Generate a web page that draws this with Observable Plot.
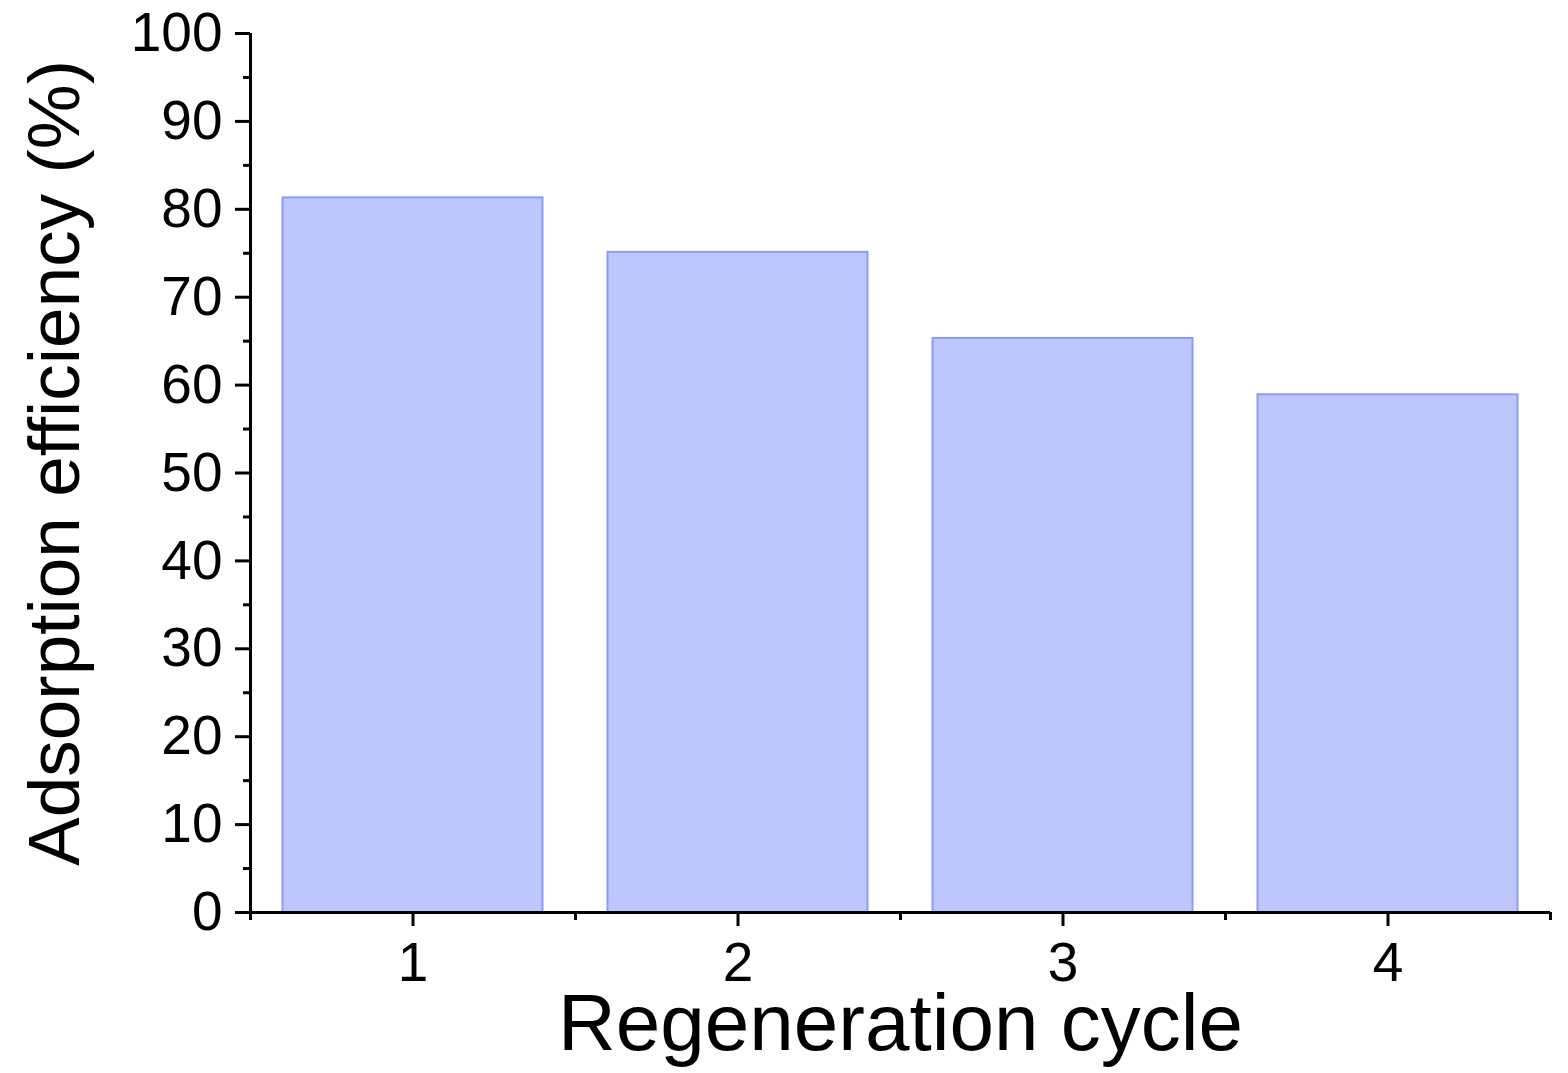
<!DOCTYPE html>
<html><head><meta charset="utf-8">
<script src="https://cdn.jsdelivr.net/npm/d3@7"></script>
<script src="https://cdn.jsdelivr.net/npm/@observablehq/plot@0.6"></script>
<style>body{margin:0;background:#fff}</style>
</head><body><div id="chart"></div>
<script>
const cycles = [1, 2, 3, 4];
const efficiency = [81.3, 75.1, 65.3, 58.9];
const yMajorTicks = [0, 10, 20, 30, 40, 50, 60, 70, 80, 90, 100];
const yMinorTicks = [5, 15, 25, 35, 45, 55, 65, 75, 85, 95];
const xMajorTicks = [1, 2, 3, 4];
const xMinorTicks = [0.5, 1.5, 2.5, 3.5, 4.5];
const xTitle = "Regeneration cycle";
const yTitle = "Adsorption efficiency (%)";

const data = cycles.map((c, i) => ({cycle: c, value: efficiency[i]}));

const chart = Plot.plot({
  width: 1568, height: 1073,
  marginLeft: 250, marginRight: 18, marginTop: 33, marginBottom: 161,
  x: {domain: [0.5, 4.5]},
  y: {domain: [0, 100]},
  style: {fontFamily: "'Liberation Sans', Arial, sans-serif", color: "#000", background: "#fff", overflow: "visible"},
  marks: [
    Plot.rect(data, {x1: d => d.cycle - 0.4, x2: d => d.cycle + 0.4, y1: d => 0, y2: "value",
      fill: "#bdc6fd", stroke: "#8c9bf8", strokeWidth: 2}),
    Plot.axisY({ticks: yMajorTicks, tickSize: 15, tickPadding: 13, fontSize: 55, strokeWidth: 3, tickFormat: d => String(d), label: null}),
    Plot.axisY({ticks: yMinorTicks, tickSize: 7, strokeWidth: 3, tickFormat: () => "", label: null}),
    Plot.axisX({ticks: xMajorTicks, tickSize: 14, tickPadding: 15, fontSize: 55, strokeWidth: 3, tickFormat: d => String(d), label: null}),
    Plot.axisX({ticks: xMinorTicks, tickSize: 8, strokeWidth: 3, tickFormat: () => "", label: null}),
    Plot.ruleX([0.5], {strokeWidth: 3}),
    Plot.ruleY([0], {strokeWidth: 3}),
    Plot.text([xTitle], {text: d => d, frameAnchor: "bottom", textAnchor: "middle", lineAnchor: "bottom", dy: 137, fontSize: 80}),
    Plot.text([yTitle], {text: d => d, frameAnchor: "left", textAnchor: "middle", lineAnchor: "bottom", rotate: -90, dx: -172, dy: -10, fontSize: 73})
  ]
});
document.getElementById("chart").appendChild(chart);
</script>
</body></html>
